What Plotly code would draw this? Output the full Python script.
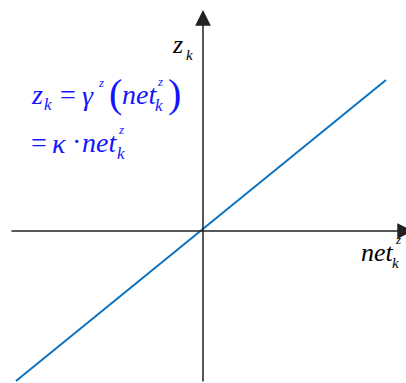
import plotly.graph_objects as go

# line end points (pixel offsets from the origin)
net_z = [-187, 183]
z_k = [-150, 151]

W, H = 406, 383
OX, OY = 203, 231      # origin position in pixels

BLUE = "#1414ff"
SERIF = "Liberation Serif"


def px(x, y):
    # pixel position -> data coords
    return x - OX, OY - y


fig = go.Figure()
fig.add_trace(go.Scatter(x=net_z, y=z_k, mode="lines",
                         line=dict(color="#0a72c0", width=2), hoverinfo="skip"))

annotations = []

# axes with arrowheads
tip_x, tip_y = px(413, 231)
tail_x, tail_y = px(10, 231)
annotations.append(dict(x=tip_x, y=tip_y, ax=tail_x, ay=tail_y, xref="x", yref="y",
                        axref="x", ayref="y", text="", showarrow=True,
                        arrowhead=2, arrowsize=2.1, arrowwidth=1.5, arrowcolor="#222222"))
tip_x, tip_y = px(203, 10)
tail_x, tail_y = px(203, 383)
annotations.append(dict(x=tip_x, y=tip_y, ax=tail_x, ay=tail_y, xref="x", yref="y",
                        axref="x", ayref="y", text="", showarrow=True,
                        arrowhead=2, arrowsize=2.1, arrowwidth=1.5, arrowcolor="#222222"))


def txt(s, x, y, size, color):
    dx, dy = px(x, y)
    annotations.append(dict(x=dx, y=dy, xref="x", yref="y", text=s, showarrow=False,
                            xanchor="left", yanchor="middle",
                            font=dict(family=SERIF, size=size, color=color)))


# axis labels
txt("<i>z</i>", 170, 44, 26, "black")
txt("<i>k</i>", 184, 55, 15, "black")
txt("<i>net</i>", 359, 252, 26, "black")
txt("<i>z</i>", 393, 239, 13, "black")
txt("<i>k</i>", 390, 263, 15, "black")

# formula, line 1
txt("<i>z</i>", 29, 94, 28, BLUE)
txt("<i>k</i>", 42, 104, 17, BLUE)
txt("=", 58, 94, 28, BLUE)
txt("<i>γ</i>", 80, 95, 28, BLUE)
txt("<i>z</i>", 96, 82, 13, BLUE)
txt("(", 107, 93, 40, BLUE)
txt("<i>net</i>", 120, 94, 28, BLUE)
txt("<i>z</i>", 155, 81, 13, BLUE)
txt("<i>k</i>", 153, 105, 17, BLUE)
txt(")", 166, 93, 40, BLUE)

# formula, line 2
txt("=", 29, 142, 28, BLUE)
txt("<i>κ</i>", 50, 143, 28, BLUE)
txt("·", 70, 141, 28, BLUE)
txt("<i>net</i>", 80, 142, 28, BLUE)
txt("<i>z</i>", 116, 129, 13, BLUE)
txt("<i>k</i>", 115, 153, 17, BLUE)

fig.update_layout(
    width=W, height=H,
    margin=dict(l=0, r=0, t=0, b=0),
    paper_bgcolor="white", plot_bgcolor="white",
    showlegend=False,
    annotations=annotations,
    xaxis=dict(range=[-OX, W - OX], visible=False, fixedrange=True),
    yaxis=dict(range=[OY - H, OY], visible=False, fixedrange=True),
)

# drop the page margin so the figure fills the window exactly
fig.write_html("out.html", config={"displayModeBar": False},
               post_script="document.body.style.margin = '0';")
